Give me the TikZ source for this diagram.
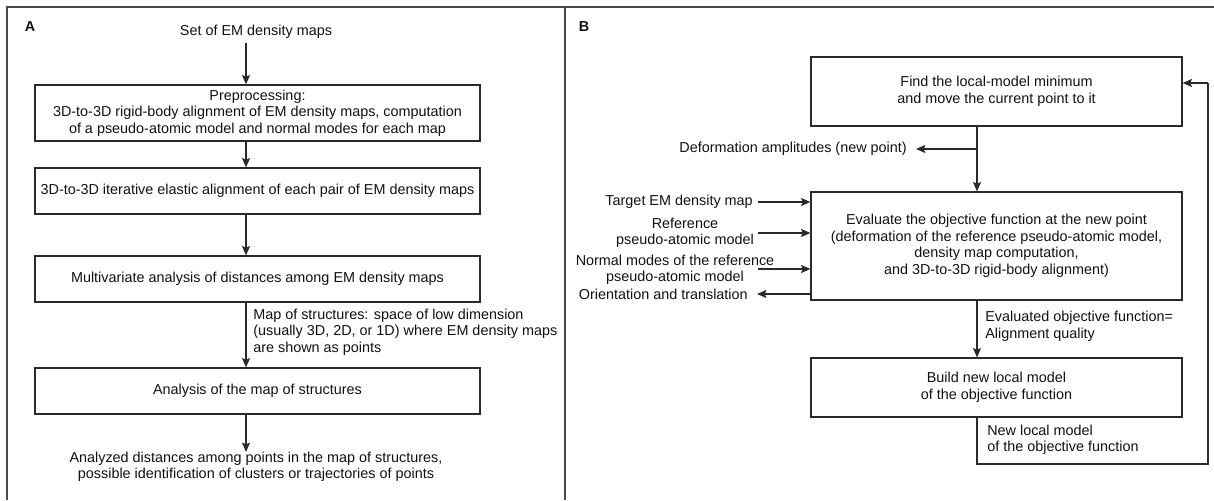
\documentclass[tikz,border=0pt]{standalone}
\usepackage{fontspec}
\setmainfont{Liberation Sans}
\usetikzlibrary{arrows.meta}
\definecolor{ln}{HTML}{2A2A2A}
\definecolor{txt}{HTML}{111111}
\definecolor{fr}{HTML}{4A4A4A}
\begin{document}
\begin{tikzpicture}[x=0.75pt,y=-0.75pt,
  every node/.style={font=\fontsize{10.8}{12.4}\selectfont, text=txt},
  boxA/.style={draw=ln, line width=0.9pt, minimum width=333.75pt, inner sep=1pt, align=center},
  boxB/.style={draw=ln, line width=0.9pt, minimum width=278.25pt, inner sep=1pt, align=center},
  plain/.style={inner sep=0pt, align=center},
  lbl/.style={inner sep=0pt, align=left, anchor=west},
  arr/.style={draw=ln, line width=0.9pt, -{Stealth[length=7pt,width=6pt,inset=1.2pt]}},
  ln/.style={draw=ln, line width=0.9pt},
  frame/.style={draw=fr, line width=1.2pt}]
\useasboundingbox (0,0) rectangle (1214,500);
% frames
\draw[frame] (7,500) -- (7,7) -- (1214,7);
\draw[frame] (565,7) -- (565,500);
\node[inner sep=0pt, font=\fontsize{10.8}{12.4}\selectfont\bfseries] (labA) at (30,27) {A};
\node[inner sep=0pt, font=\fontsize{10.8}{12.4}\selectfont\bfseries] (labB) at (584,27) {B};

% ---------- panel A ----------
\coordinate (ax) at (246,0);
\node[plain] (set) at (256,32) {Set of EM density maps};
\node[boxA, minimum height=42pt] (a1) at (257.5,113) {Preprocessing:\\3D-to-3D rigid-body alignment of EM density maps, computation\\of a pseudo-atomic model and normal modes for each map};
\node[boxA, minimum height=34.5pt] (a2) at (257.5,191) {3D-to-3D iterative elastic alignment of each pair of EM density maps};
\node[boxA, minimum height=34.5pt] (a3) at (257.5,279) {Multivariate analysis of distances among EM density maps};
\node[boxA, minimum height=34.5pt] (a4) at (257.5,391) {Analysis of the map of structures};
\node[plain] (res) at (256,467) {Analyzed distances among points in the map of structures,\\possible identification of clusters or trajectories of points};
\node[lbl] (mapl) at (253,332) {Map of structures: space of low dimension\\(usually 3D, 2D, or 1D) where EM density maps\\are shown as points};
\coordinate (st) at (246,43);
\coordinate (en) at (246,452);
\draw[arr] (st) -- (a1.north -| ax);
\draw[arr] (a1.south -| ax) -- (a2.north -| ax);
\draw[arr] (a2.south -| ax) -- (a3.north -| ax);
\draw[arr] (a3.south -| ax) -- (a4.north -| ax);
\draw[arr] (a4.south -| ax) -- (en);

% ---------- panel B ----------
\coordinate (bx) at (977,0);
\node[boxB, minimum height=51.75pt] (b1) at (996.5,91.5) {Find the local-model minimum\\and move the current point to it};
\node[boxB, minimum height=81pt] (b2) at (996.5,246) {Evaluate the objective function at the new point\\(deformation of the reference pseudo-atomic model,\\density map computation,\\and 3D-to-3D rigid-body alignment)};
\node[boxB, minimum height=44.25pt] (b3) at (996.5,387.5) {Build new local model\\of the objective function};

\node[plain, anchor=east] (def) at (907,149) {Deformation amplitudes (new point)};
\coordinate (brA) at (977,149);
\coordinate (defe) at (916,149);
\draw[arr] (b1.south -| bx) -- (b2.north -| bx);
\draw[arr] (brA) -- (defe);

\node[plain, anchor=east] (tgt) at (753,202) {Target EM density map};
\node[plain] (ref) at (685,233) {Reference\\pseudo-atomic model};
\node[plain] (nm) at (675,270) {Normal modes of the reference\\pseudo-atomic model};
\node[plain, anchor=east] (ori) at (748,294) {Orientation and translation};
\coordinate (i1) at (758,202);
\coordinate (i2) at (758,233);
\coordinate (i3) at (758,269);
\coordinate (o1) at (757,294);
\draw[arr] (i1) -- (b2.west |- i1);
\draw[arr] (i2) -- (b2.west |- i2);
\draw[arr] (i3) -- (b2.west |- i3);
\draw[arr] (b2.west |- o1) -- (o1);

\node[lbl] (evl) at (985,326.5) {Evaluated objective function=\\Alignment quality};
\draw[arr] (b2.south -| bx) -- (b3.north -| bx);

\node[lbl] (nlm) at (987,440) {New local model\\of the objective function};
\coordinate (c1) at (977,464);
\coordinate (c2) at (1208,464);
\coordinate (c3) at (1208,83);
\draw[ln] (b3.south -| bx) -- (c1) -- (c2) -- (c3);
\draw[arr] (c3) -- (b1.east |- c3);
\end{tikzpicture}
\end{document}
